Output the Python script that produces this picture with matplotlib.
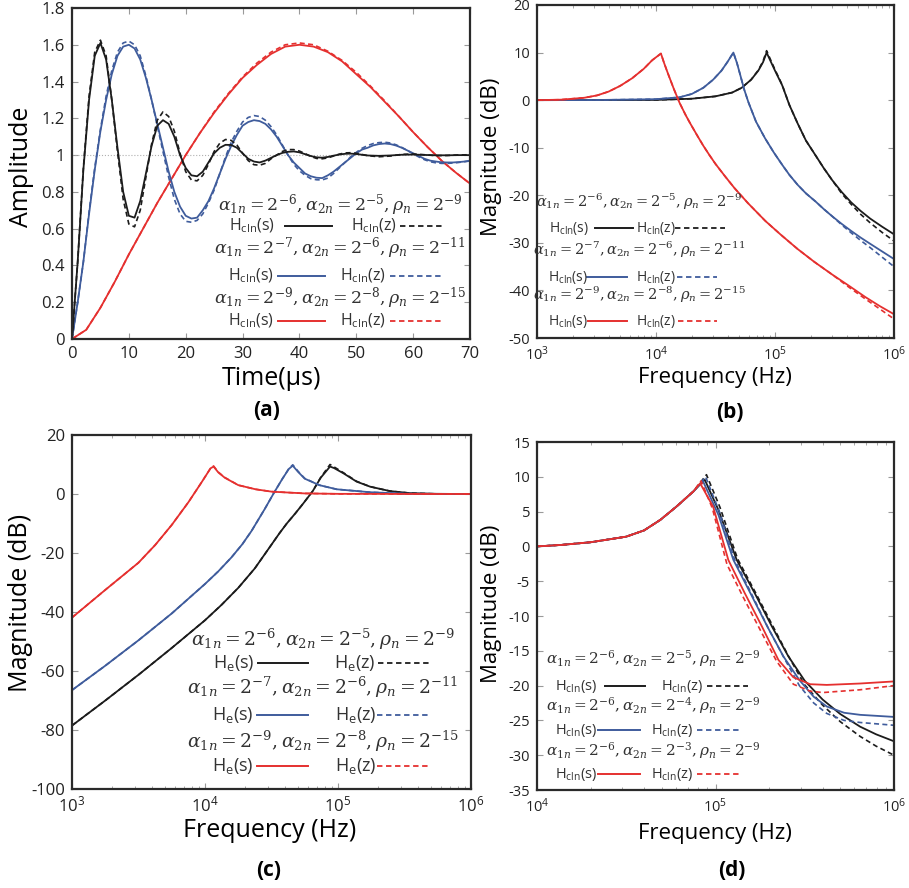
import numpy as np
import matplotlib
matplotlib.use("Agg")
import matplotlib.pyplot as plt
from matplotlib.lines import Line2D
from matplotlib.ticker import FuncFormatter, LogLocator, NullFormatter

plt.rcParams["font.family"] = ["Open Sans", "DejaVu Sans"]
plt.rcParams["axes.unicode_minus"] = False
plt.rcParams["mathtext.fontset"] = "custom"
plt.rcParams["mathtext.rm"] = "DejaVu Serif"
plt.rcParams["mathtext.it"] = "DejaVu Serif:italic"
plt.rcParams["mathtext.bf"] = "DejaVu Serif:bold"
plt.rcParams["mathtext.sf"] = "Open Sans"

BLACK = "#1c1c1c"
BLUE = "#3f5c9c"
RED = "#e5302f"

# ---------------- (a) step response ----------------
t_black = [0, 1, 2, 3, 4, 5, 6, 7, 8, 9, 10, 11, 12, 13, 14, 15, 16, 17, 18, 19, 20,
           21, 22, 23, 24, 25, 26, 27, 28, 29, 30, 31, 32, 33, 34, 35, 36, 37, 38, 39, 40,
           41, 42, 43, 44, 45, 46, 47, 48, 49, 50, 52, 54, 56, 58, 60, 62, 64, 66, 68, 70]
a_black_s = [0, 0.42, 0.92, 1.30, 1.54, 1.61, 1.52, 1.30, 1.04, 0.80, 0.67, 0.66, 0.75, 0.90,
             1.05, 1.16, 1.19, 1.17, 1.10, 1.00, 0.93, 0.89, 0.885, 0.91, 0.96, 1.01, 1.04,
             1.056, 1.055, 1.04, 1.01, 0.98, 0.965, 0.96, 0.97, 0.985, 1.00, 1.012, 1.018,
             1.02, 1.015, 1.005, 0.995, 0.988, 0.986, 0.99, 0.997, 1.003, 1.007, 1.008, 1.006,
             0.998, 0.996, 0.998, 1.002, 1.003, 1.001, 0.999, 0.999, 1.0, 1.0]
a_black_z = [0, 0.42, 0.93, 1.32, 1.56, 1.625, 1.54, 1.30, 1.02, 0.76, 0.625, 0.61, 0.70, 0.88,
             1.06, 1.19, 1.235, 1.21, 1.13, 1.01, 0.91, 0.865, 0.86, 0.89, 0.95, 1.02, 1.065,
             1.085, 1.08, 1.055, 1.01, 0.97, 0.948, 0.945, 0.955, 0.98, 1.00, 1.02, 1.03, 1.03,
             1.022, 1.008, 0.993, 0.982, 0.98, 0.985, 0.995, 1.005, 1.012, 1.013, 1.01, 0.997,
             0.991, 0.995, 1.004, 1.006, 1.002, 0.997, 0.998, 1.001, 1.002]

t_blue = list(range(0, 71))
a_blue_s = [0, 0.20, 0.42, 0.68, 0.92, 1.13, 1.30, 1.44, 1.54, 1.59, 1.60, 1.58, 1.52, 1.42,
            1.30, 1.17, 1.04, 0.91, 0.80, 0.72, 0.67, 0.655, 0.66, 0.70, 0.75, 0.82, 0.90,
            0.98, 1.05, 1.11, 1.16, 1.18, 1.19, 1.185, 1.17, 1.14, 1.10, 1.05, 1.00, 0.96,
            0.93, 0.90, 0.885, 0.877, 0.875, 0.89, 0.91, 0.935, 0.96, 0.985, 1.01, 1.03, 1.04,
            1.053, 1.06, 1.063, 1.06, 1.052, 1.04, 1.025, 1.01, 0.995, 0.98, 0.97, 0.965,
            0.961, 0.96, 0.96, 0.962, 0.965, 0.97]
a_blue_z = [0, 0.20, 0.42, 0.69, 0.93, 1.14, 1.32, 1.46, 1.56, 1.61, 1.62, 1.60, 1.54, 1.43,
            1.30, 1.16, 1.02, 0.88, 0.76, 0.68, 0.64, 0.635, 0.645, 0.68, 0.74, 0.81, 0.90,
            0.99, 1.07, 1.13, 1.18, 1.205, 1.215, 1.21, 1.19, 1.155, 1.11, 1.055, 1.00, 0.95,
            0.915, 0.89, 0.872, 0.866, 0.865, 0.875, 0.90, 0.93, 0.96, 0.99, 1.015, 1.037,
            1.052, 1.063, 1.068, 1.07, 1.066, 1.056, 1.042, 1.025, 1.007, 0.99, 0.975, 0.964,
            0.958, 0.955, 0.955, 0.957, 0.96, 0.964, 0.968]

t_red = [0, 2.5, 5, 7.5, 10, 12.5, 15, 17.5, 20, 22.5, 25, 27.5, 30, 32.5, 35, 37.5, 40,
         42.5, 45, 47.5, 50, 52.5, 55, 57.5, 60, 62.5, 65, 67.5, 70]
a_red_s = [0, 0.05, 0.17, 0.31, 0.46, 0.60, 0.74, 0.87, 1.00, 1.12, 1.23, 1.33, 1.42, 1.49,
           1.55, 1.59, 1.60, 1.59, 1.56, 1.51, 1.44, 1.37, 1.29, 1.21, 1.125, 1.045, 0.97,
           0.905, 0.845]
a_red_z = [0, 0.05, 0.17, 0.31, 0.46, 0.60, 0.74, 0.87, 1.00, 1.12, 1.235, 1.335, 1.425, 1.50,
           1.56, 1.60, 1.61, 1.60, 1.565, 1.515, 1.45, 1.375, 1.295, 1.21, 1.125, 1.045, 0.97,
           0.905, 0.845]

# ---------------- (b) closed loop magnitude ----------------
b_red_f = [1e3, 1.6e3, 2.5e3, 3.2e3, 4e3, 5e3, 6.3e3, 7.9e3, 9.3e3, 1.1e4, 1.17e4, 1.26e4,
           1.41e4, 1.58e4, 1.78e4, 1.95e4, 2.24e4, 2.5e4, 2.82e4, 3.16e4, 3.8e4, 4.57e4,
           5.9e4, 8.3e4, 1.12e5, 1.55e5, 2.14e5, 3.0e5, 4.17e5, 5.75e5, 7.6e5, 1e6]
b_red_s = [0, 0.1, 0.5, 1.0, 1.8, 3.0, 4.6, 6.6, 8.4, 9.8, 7.8, 5.6, 2.4, -0.6, -3.2, -5.0,
           -7.6, -9.6, -11.6, -13.4, -16.0, -18.5, -21.6, -25.4, -28.3, -31.3, -34.0, -36.6,
           -39.0, -41.4, -43.3, -45.0]
b_red_z = [0, 0.1, 0.5, 1.0, 1.8, 3.0, 4.6, 6.6, 8.4, 9.8, 7.8, 5.6, 2.4, -0.6, -3.2, -5.0,
           -7.6, -9.6, -11.6, -13.4, -16.0, -18.5, -21.6, -25.4, -28.3, -31.3, -34.0, -36.6,
           -39.3, -41.8, -43.9, -46.0]

b_blue_f = [1e3, 3e3, 1e4, 1.58e4, 2e4, 2.5e4, 3.02e4, 3.55e4, 3.98e4, 4.47e4, 4.79e4,
            5.13e4, 5.5e4, 5.97e4, 6.92e4, 8.24e4, 9.77e4, 1.15e5, 1.32e5, 1.55e5, 1.82e5,
            2.19e5, 2.57e5, 3.02e5, 3.63e5, 4.37e5, 5.25e5, 6.31e5, 7.94e5, 1e6]
b_blue_s = [0, 0.02, 0.2, 0.6, 1.3, 2.6, 4.3, 6.2, 8.0, 10.0, 7.8, 5.1, 2.3, -0.4, -4.5,
            -8.0, -11.0, -13.6, -15.7, -17.8, -19.6, -21.3, -22.9, -24.4, -26.0, -27.5,
            -28.9, -30.2, -31.8, -33.4]
b_blue_z = [0, 0.02, 0.2, 0.6, 1.3, 2.6, 4.3, 6.2, 8.0, 10.0, 7.8, 5.1, 2.3, -0.4, -4.5,
            -8.0, -11.0, -13.6, -15.7, -17.8, -19.6, -21.3, -22.9, -24.4, -26.2, -27.9,
            -29.5, -31.0, -33.0, -35.0]

b_black_f = [1e3, 1e4, 2e4, 3.16e4, 4.37e4, 5.25e4, 6.3e4, 7.24e4, 7.94e4, 8.5e4, 9.1e4,
             1e5, 1.15e5, 1.32e5, 1.55e5, 1.82e5, 2.19e5, 2.57e5, 3.02e5, 3.63e5, 4.37e5,
             5.25e5, 6.31e5, 7.94e5, 1e6]
b_black_s = [0, 0.05, 0.3, 0.8, 1.6, 2.6, 4.3, 6.2, 8.0, 10.0, 8.4, 6.2, 3.1, -1.0, -4.9,
             -8.5, -11.6, -14.3, -16.8, -19.3, -21.5, -23.3, -24.9, -26.6, -28.2]
b_black_z = [0, 0.05, 0.3, 0.8, 1.6, 2.6, 4.3, 6.3, 8.2, 10.4, 8.7, 6.4, 3.2, -1.0, -4.9,
             -8.5, -11.6, -14.3, -16.8, -19.6, -21.9, -24.0, -25.8, -27.8, -29.6]

# ---------------- (c) error transfer magnitude ----------------
c_red_f = [1e3, 1.78e3, 3.16e3, 4.22e3, 5.62e3, 7.5e3, 9.5e3, 1.1e4, 1.16e4, 1.26e4, 1.41e4,
           1.78e4, 2.4e4, 3.16e4, 5.6e4, 1e5, 1e6]
c_red_s = [-41.9, -32.5, -23.3, -17.3, -10.5, -2.8, 4.2, 8.7, 9.3, 7.3, 5.5, 3.0, 1.6, 0.8,
           0.2, 0.05, 0]
c_red_z = [-41.9, -32.5, -23.3, -17.3, -10.5, -2.8, 4.2, 8.7, 9.5, 7.4, 5.6, 3.0, 1.6, 0.8,
           0.2, 0.05, 0]

c_blue_f = [1e3, 1.78e3, 3.16e3, 5.62e3, 1e4, 1.26e4, 1.58e4, 1.91e4, 2.24e4, 2.82e4,
            3.31e4, 3.8e4, 4.27e4, 4.57e4, 5.01e4, 5.62e4, 7.24e4, 9.77e4, 1.74e5, 3.16e5, 1e6]
c_blue_s = [-66.5, -58.2, -49.6, -40.5, -30.5, -26.2, -21.5, -17.0, -12.5, -5.0, 0.5, 5.0,
            8.5, 9.6, 7.5, 5.2, 3.0, 1.6, 0.6, 0.1, 0]
c_blue_z = [-66.5, -58.2, -49.6, -40.5, -30.5, -26.2, -21.5, -17.0, -12.5, -5.0, 0.5, 5.0,
            8.6, 9.9, 7.7, 5.3, 3.0, 1.6, 0.6, 0.1, 0]

c_black_f = [1e3, 1.78e3, 3.16e3, 5.62e3, 1e4, 1.33e4, 1.78e4, 2.37e4, 3.09e4, 3.63e4,
             4.12e4, 4.79e4, 5.46e4, 6.46e4, 7.41e4, 8.71e4, 9.33e4, 1.1e5, 1.38e5, 1.74e5,
             2.45e5, 3.47e5, 5.5e5, 1e6]
c_black_s = [-78.5, -70.0, -61.3, -52.2, -42.8, -37.6, -31.8, -25.2, -17.8, -13.3, -10.0,
             -6.5, -3.3, 1.0, 5.5, 9.3, 8.8, 7.0, 4.2, 2.5, 1.0, 0.3, 0.05, 0]
c_black_z = [-78.5, -70.0, -61.3, -52.2, -42.8, -37.6, -31.8, -25.2, -17.8, -13.3, -10.0,
             -6.5, -3.3, 1.0, 5.6, 10.0, 9.2, 7.2, 4.3, 2.5, 1.0, 0.3, 0.05, 0]

# ---------------- (d) closed loop, varying alpha_2n ----------------
d_rise_f = [1e4, 1.35e4, 2e4, 3.16e4, 3.98e4, 4.9e4, 6.03e4, 7.52e4]
d_rise_db = [0, 0.2, 0.6, 1.4, 2.3, 3.8, 5.7, 7.9]

d_black_s_f = [8.7e4, 1.04e5, 1.315e5, 1.66e5, 2.07e5, 2.56e5, 3.16e5, 3.98e5, 5.01e5, 6.46e5, 7.94e5, 1e6]
d_black_s = [9.6, 5.2, -1.95, -6.74, -11.5, -15.8, -19.3, -22.0, -24.1, -25.9, -27.0, -28.0]
d_black_z_f = [8.9e4, 1.06e5, 1.33e5, 1.68e5, 2.1e5, 2.58e5, 3.16e5, 3.98e5, 5.01e5, 6.46e5, 7.94e5, 1e6]
d_black_z = [10.3, 5.6, -1.8, -6.7, -11.5, -15.9, -19.9, -22.8, -25.2, -27.3, -28.7, -30.0]

d_blue_s_f = [8.5e4, 1.04e5, 1.26e5, 1.57e5, 1.95e5, 2.4e5, 2.95e5, 3.55e5, 4.2e5, 5.25e5, 6.46e5, 1e6]
d_blue_s = [9.4, 4.5, -1.95, -6.74, -11.5, -15.8, -19.2, -21.6, -23.0, -23.9, -24.2, -24.5]
d_blue_z_f = [8.8e4, 1.05e5, 1.28e5, 1.59e5, 1.97e5, 2.42e5, 2.95e5, 3.55e5, 4.2e5, 5.25e5, 6.46e5, 1e6]
d_blue_z = [10.0, 5.0, -1.9, -6.8, -11.7, -16.0, -20.0, -22.5, -24.0, -25.0, -25.3, -25.7]

d_red_s_f = [8.2e4, 9.7e4, 1.18e5, 1.46e5, 1.82e5, 2.25e5, 2.73e5, 3.39e5, 4.2e5, 6.46e5, 1e6]
d_red_s = [9.07, 5.7, -1.95, -6.74, -11.5, -16.3, -18.8, -19.8, -19.9, -19.7, -19.4]
d_red_z_f = [8.3e4, 9.6e4, 1.16e5, 1.43e5, 1.78e5, 2.2e5, 2.73e5, 3.39e5, 4.0e5, 4.5e5, 6.46e5, 1e6]
d_red_z = [9.4, 5.5, -2.6, -7.3, -12.0, -16.5, -19.8, -20.8, -21.0, -20.9, -20.6, -20.0]

legend_a = [r"$\alpha_{1n} = 2^{-6}, \alpha_{2n} = 2^{-5}, \rho_n = 2^{-9}$",
            r"$\alpha_{1n} = 2^{-7}, \alpha_{2n} = 2^{-6}, \rho_n = 2^{-11}$",
            r"$\alpha_{1n} = 2^{-9}, \alpha_{2n} = 2^{-8}, \rho_n = 2^{-15}$"]
legend_d = [r"$\alpha_{1n} = 2^{-6}, \alpha_{2n} = 2^{-5}, \rho_n = 2^{-9}$",
            r"$\alpha_{1n} = 2^{-6}, \alpha_{2n} = 2^{-4}, \rho_n = 2^{-9}$",
            r"$\alpha_{1n} = 2^{-6}, \alpha_{2n} = 2^{-3}, \rho_n = 2^{-9}$"]

W, H = 909, 888
fig = plt.figure(figsize=(W / 100, H / 100), dpi=100)


def fx(px):
    return px / W


def fy(py):
    return 1 - py / H


def make_axes(left, top, right, bottom):
    ax = fig.add_axes([fx(left), fy(bottom), fx(right) - fx(left), (bottom - top) / H])
    for s in ax.spines.values():
        s.set_linewidth(1.6)
        s.set_color("#2a2a2a")
    ax.tick_params(direction="in", which="both", top=True, right=True, color="#9a9a9a",
                   labelsize=10.5, labelcolor="#222222", pad=5)
    ax.tick_params(which="major", length=4)
    ax.tick_params(which="minor", length=2.5)
    return ax


def log_axis(ax, lo, hi):
    ax.set_xscale("log")
    ax.set_xlim(lo, hi)
    ax.xaxis.set_major_locator(LogLocator(base=10, numticks=10))
    ax.xaxis.set_minor_locator(LogLocator(base=10, subs=np.arange(2, 10), numticks=20))
    ax.xaxis.set_minor_formatter(NullFormatter())
    ax.xaxis.set_major_formatter(FuncFormatter(lambda v, p: r"$\mathsf{10^{%d}}$" % round(np.log10(v))))


def pair(ax, x_s, y_s, x_z, y_z, color):
    ax.plot(x_s, y_s, color=color, lw=1.3, solid_capstyle="butt", solid_joinstyle="round")
    ax.plot(x_z, y_z, color=color, lw=1.2, ls=(0, (3, 2)))


def legend_block(rows, alpha_x, alpha_size, h_size, labels, sub):
    # rows: (y_alpha, y_h, s_x, line_x0, line_x1, z_x, dash_x0, dash_x1, color)
    for (ya, yh, sx, l0, l1, zx, d0, d1, col), lab in zip(rows, labels):
        fig.text(fx(alpha_x), fy(ya), lab, ha="center", va="center", fontsize=alpha_size,
                 color="#333333")
        fig.text(fx(sx), fy(yh), r"H$_{\mathsf{%s}}$(s)" % sub, ha="center", va="center",
                 fontsize=h_size, color="#333333")
        fig.text(fx(zx), fy(yh), r"H$_{\mathsf{%s}}$(z)" % sub, ha="center", va="center",
                 fontsize=h_size, color="#333333")
        fig.add_artist(Line2D([fx(l0), fx(l1)], [fy(yh), fy(yh)], color=col, lw=1.4,
                              transform=fig.transFigure))
        fig.add_artist(Line2D([fx(d0), fx(d1)], [fy(yh), fy(yh)], color=col, lw=1.3,
                              ls=(0, (3, 2)), transform=fig.transFigure))


# ---- (a)
ax = make_axes(72, 8, 470, 339)
ax.axhline(1.0, color="#b0b0b0", lw=0.8, ls=":")
pair(ax, t_red, a_red_s, t_red, a_red_z, RED)
pair(ax, t_blue, a_blue_s, t_blue, a_blue_z, BLUE)
pair(ax, t_black, a_black_s, t_black, a_black_z, BLACK)
ax.set_xlim(0, 70)
ax.set_ylim(0, 1.8)
ax.set_xticks(range(0, 71, 10))
ax.set_yticks(np.arange(0, 1.81, 0.2))
ax.yaxis.set_major_formatter(FuncFormatter(lambda v, p: "%g" % round(v, 1)))
ax.tick_params(labelsize=12)
fig.text(fx(22), fy(167), "Amplitude", rotation=90, ha="center", va="center", fontsize=18)
fig.text(fx(271), fy(378), "Time(µs)", ha="center", va="center", fontsize=18)
fig.text(fx(267), fy(410), "(a)", ha="center", va="center", fontsize=15, fontweight="bold")
legend_block([(205, 226, 252, 285, 332, 374, 400, 442, BLACK),
              (248, 276, 251, 278, 325, 363, 390, 442, BLUE),
              (298, 321, 251, 278, 325, 363, 390, 442, RED)],
             340, 12.5, 11.5, legend_a, "cln")

# ---- (b)
ax = make_axes(537, 5, 894, 338)
log_axis(ax, 1e3, 1e6)
pair(ax, b_black_f, b_black_s, b_black_f, b_black_z, BLACK)
pair(ax, b_blue_f, b_blue_s, b_blue_f, b_blue_z, BLUE)
pair(ax, b_red_f, b_red_s, b_red_f, b_red_z, RED)
ax.set_ylim(-50, 20)
ax.set_yticks(range(-50, 21, 10))
fig.text(fx(492), fy(157), "Magnitude (dB)", rotation=90, ha="center", va="center", fontsize=16)
fig.text(fx(715), fy(377), "Frequency (Hz)", ha="center", va="center", fontsize=16)
fig.text(fx(730), fy(412), "(b)", ha="center", va="center", fontsize=15, fontweight="bold")
legend_block([(202, 228, 569, 595, 633, 656, 675, 725, BLACK),
              (250, 277, 568, 587, 627, 656, 677, 717, BLUE),
              (295, 321, 568, 588, 627, 656, 678, 717, RED)],
             639, 10.5, 10, legend_a, "cln")

# ---- (c)
ax = make_axes(72, 435, 471, 789)
log_axis(ax, 1e3, 1e6)
pair(ax, c_black_f, c_black_s, c_black_f, c_black_z, BLACK)
pair(ax, c_blue_f, c_blue_s, c_blue_f, c_blue_z, BLUE)
pair(ax, c_red_f, c_red_s, c_red_f, c_red_z, RED)
ax.set_ylim(-100, 20)
ax.set_yticks(range(-100, 21, 20))
ax.tick_params(labelsize=12)
fig.text(fx(21), fy(603), "Magnitude (dB)", rotation=90, ha="center", va="center", fontsize=18)
fig.text(fx(270), fy(830), "Frequency (Hz)", ha="center", va="center", fontsize=18)
fig.text(fx(269), fy(870), "(c)", ha="center", va="center", fontsize=15, fontweight="bold")
legend_block([(639, 663, 234, 258, 308, 355, 378, 430, BLACK),
              (687, 715, 233, 257, 308, 356, 377, 430, BLUE),
              (741, 766, 233, 257, 308, 356, 377, 430, RED)],
             323, 13.5, 13, legend_a, "e")

# ---- (d)
ax = make_axes(537, 442, 894, 790)
log_axis(ax, 1e4, 1e6)
pair(ax, d_rise_f + d_black_s_f, d_rise_db + d_black_s, d_rise_f + d_black_z_f, d_rise_db + d_black_z, BLACK)
pair(ax, d_rise_f + d_blue_s_f, d_rise_db + d_blue_s, d_rise_f + d_blue_z_f, d_rise_db + d_blue_z, BLUE)
pair(ax, d_rise_f + d_red_s_f, d_rise_db + d_red_s, d_rise_f + d_red_z_f, d_rise_db + d_red_z, RED)
ax.set_ylim(-35, 15)
ax.set_yticks(range(-35, 16, 5))
fig.text(fx(492), fy(604), "Magnitude (dB)", rotation=90, ha="center", va="center", fontsize=16)
fig.text(fx(715), fy(833), "Frequency (Hz)", ha="center", va="center", fontsize=16)
fig.text(fx(732), fy(870), "(d)", ha="center", va="center", fontsize=15, fontweight="bold")
legend_block([(659, 686, 576, 605, 645, 682, 707, 748, BLACK),
              (706, 730, 576, 598, 640, 672, 697, 740, BLUE),
              (751, 774, 576, 598, 640, 672, 697, 740, RED)],
             653, 11, 10.5, legend_d, "cln")

fig.savefig("out.png", dpi=100)
